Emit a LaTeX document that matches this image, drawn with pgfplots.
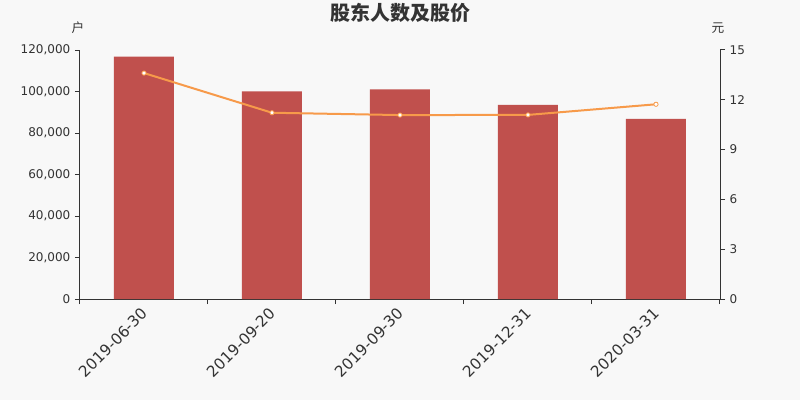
\documentclass[border=0pt]{standalone}
\usepackage{pgfplots}
\pgfplotsset{compat=1.18}
\usepackage{fontspec}
\setmainfont{DejaVu Sans}
\newfontfamily\cjk{Noto Sans CJK SC}

\definecolor{bg}{HTML}{F8F8F8}
\definecolor{barred}{HTML}{C0504D}
\definecolor{lineor}{HTML}{F79A4A}
\definecolor{txt}{HTML}{333333}

\pgfplotsset{
  base/.style={
    scale only axis,
    width=480pt, height=186.75pt,
    xmin=-0.5, xmax=4.5,
    tick align=outside,
    major tick length=3.75pt,
    axis line style={txt, line width=0.75pt},
    tick style={txt, line width=0.75pt},
    tick label style={font=\fontsize{9}{10}\selectfont, text=txt},
    /pgf/number format/assume math mode=true,
    /pgf/number format/fixed,
    /pgf/number format/precision=0,
    /pgf/number format/1000 sep={,},
    scaled y ticks=false,
  }
}

\begin{document}
\begin{tikzpicture}[x=1pt,y=1pt]
\fill[bg] (-60,-75.75) rectangle (540,224.25);

\begin{axis}[
  base,
  axis x line*=bottom, axis y line*=left,
  ymin=0, ymax=120000,
  ytick={0,20000,...,120000},
  xtick={-0.5,0.5,...,4.5},
  xticklabels={},
  extra x ticks={0,1,2,3,4},
  extra x tick labels={2019-06-30,2019-09-20,2019-09-30,2019-12-31,2020-03-31},
  extra x tick style={major tick length=0pt,
    tick label style={font=\fontsize{11.5}{12}\selectfont, xshift=-2.5pt, yshift=-1pt,
      rotate=45, anchor=north east, text=txt}},
]
\addplot[ybar, bar width=45pt, fill=barred, draw=none] coordinates {
(0,116800)
(1,100100)
(2,101050)
(3,93500)
(4,86750)
};
\end{axis}

\begin{axis}[
  base,
  axis x line=none, axis y line*=right,
  ymin=0, ymax=15,
  ytick={0,3,...,15},
]
\addplot[lineor, line width=1.5pt, mark=*, mark size=1.6pt,
  mark options={fill=white, draw=lineor, line width=0.6pt}] coordinates {
(0,13.61)
(1,11.22)
(2,11.08)
(3,11.09)
(4,11.73)
};
\end{axis}

\node[text=txt, font=\cjk\fontsize{9.5}{10}\selectfont] at (-1.5,203.25) {户};
\node[text=txt, font=\cjk\fontsize{9.5}{10}\selectfont] at (478.5,203.25) {元};
\node[inner sep=0pt, text=txt, font=\cjk\bfseries\fontsize{15}{16}\selectfont] at (240,214.5) {股东人数及股价};
\pgfresetboundingbox
\path[use as bounding box] (-60,-75.75) rectangle (540,224.25);
\end{tikzpicture}
\end{document}
